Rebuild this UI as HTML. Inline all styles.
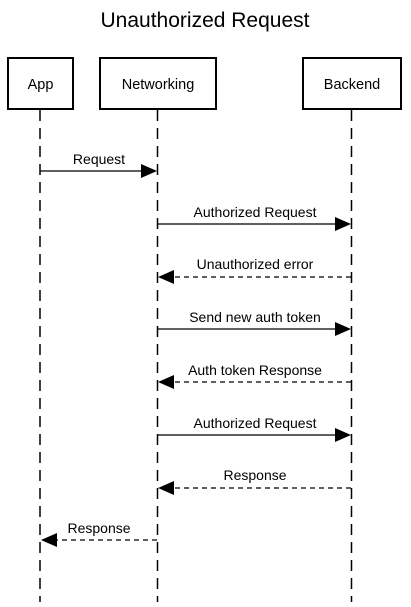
<!DOCTYPE html>
<html><head><style>
html,body{margin:0;padding:0;background:#fff;}
text{font-family:"Liberation Sans",Arial,sans-serif;}
</style></head><body>
<svg width="411" height="602" viewBox="0 0 411 602" xmlns="http://www.w3.org/2000/svg">
<text x="205" y="27" font-size="21" text-anchor="middle" fill="#000">Unauthorized Request</text>
<g stroke="#000" stroke-width="1.5" stroke-dasharray="11 7" fill="none">
<line x1="40" y1="110" x2="40" y2="602"/>
<line x1="157.5" y1="110" x2="157.5" y2="602"/>
<line x1="351.5" y1="110" x2="351.5" y2="602"/>
</g>
<g stroke="#000" stroke-width="2" fill="#fff">
<rect x="8" y="58" width="65" height="51"/>
<rect x="100" y="58" width="116" height="51"/>
<rect x="303" y="58" width="98" height="51"/>
</g>
<g font-size="14.5" text-anchor="middle" fill="#000">
<text x="40.5" y="89">App</text>
<text x="158" y="89">Networking</text>
<text x="352" y="89">Backend</text>
</g>
<g stroke="#000" stroke-width="1.3" fill="none">
<line x1="40" y1="171" x2="143" y2="171"/>
<line x1="158" y1="224" x2="337" y2="224"/>
<line x1="351" y1="277" x2="172" y2="277" stroke-dasharray="5 4"/>
<line x1="158" y1="329" x2="337" y2="329"/>
<line x1="351" y1="382" x2="172" y2="382" stroke-dasharray="5 4"/>
<line x1="158" y1="435" x2="337" y2="435"/>
<line x1="351" y1="488" x2="172" y2="488" stroke-dasharray="5 4"/>
<line x1="157" y1="540" x2="55" y2="540" stroke-dasharray="5 4"/>
</g>
<g fill="#000">
<polygon points="141,164 157,171 141,178"/>
<polygon points="335,217 351,224 335,231"/>
<polygon points="174,270 158,277 174,284"/>
<polygon points="335,322 351,329 335,336"/>
<polygon points="174,375 158,382 174,389"/>
<polygon points="335,428 351,435 335,442"/>
<polygon points="174,481 158,488 174,495"/>
<polygon points="57,533 41,540 57,547"/>
</g>
<g font-size="14" text-anchor="middle" fill="#000">
<text x="99" y="164">Request</text>
<text x="255" y="217">Authorized Request</text>
<text x="255" y="269">Unauthorized error</text>
<text x="255" y="322">Send new auth token</text>
<text x="255" y="375">Auth token Response</text>
<text x="255" y="428">Authorized Request</text>
<text x="255" y="480">Response</text>
<text x="99" y="533">Response</text>
</g>
</svg>
</body></html>
